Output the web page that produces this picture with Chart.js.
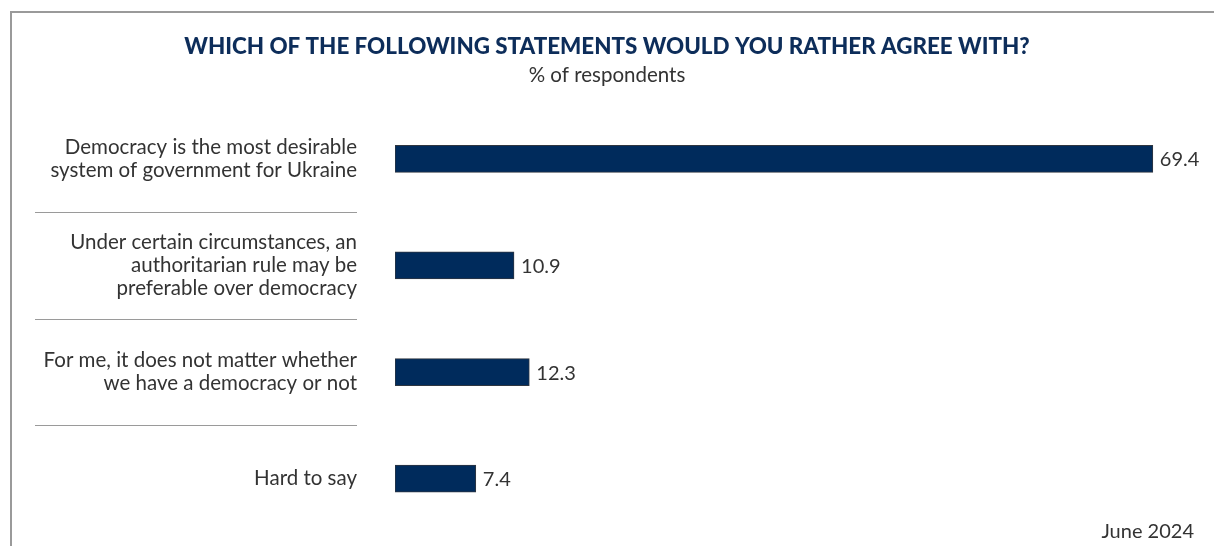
<!DOCTYPE html>
<html>
<head>
<meta charset="utf-8">
<script src="https://cdn.jsdelivr.net/npm/chart.js@4.4.1/dist/chart.umd.min.js"></script>
<style>
    html, body { margin: 0; padding: 0; background: #fff; overflow: hidden; }
    #wrap { position: relative; width: 1214px; height: 546px; overflow: hidden; }
    #frame {
        position: absolute; left: 10px; top: 11px; right: 0; bottom: 0;
        border-left: 2px solid #9a9a9a; border-top: 2px solid #9a9a9a;
        pointer-events: none;
    }
    canvas { position: absolute; left: 0; top: 0; }
</style>
</head>
<body>
<div id="wrap">
    <canvas id="chart" width="1214" height="546"></canvas>
    <div id="frame"></div>
</div>
<script>
(function () {
    var categories = [
        ['Democracy is the most desirable', 'system of government for Ukraine'],
        ['Under certain circumstances, an', 'authoritarian rule may be', 'preferable over democracy'],
        ['For me, it does not matter whether', 'we have a democracy or not'],
        ['Hard to say']
    ];
    var values = [69.4, 10.9, 12.3, 7.4];

    var titleText = 'WHICH OF THE FOLLOWING STATEMENTS WOULD YOU RATHER AGREE WITH?';
    var subtitleText = '% of respondents';
    var noteText = 'June 2024';

    var navy = '#002b5c';
    var textColor = '#333333';
    var bodyFont = 'Lato, "Open Sans", sans-serif';

    // thin rules between the category labels
    var separators = {
        id: 'separators',
        afterDraw: function (chart) {
            var ctx = chart.ctx;
            var y = chart.scales.y;
            ctx.save();
            ctx.strokeStyle = '#9a9a9a';
            ctx.lineWidth = 1;
            for (var i = 0; i < categories.length - 1; i++) {
                var py = Math.round((y.getPixelForValue(i) + y.getPixelForValue(i + 1)) / 2) + 0.5;
                ctx.beginPath();
                ctx.moveTo(35, py);
                ctx.lineTo(chart.chartArea.left - 38, py);
                ctx.stroke();
            }
            ctx.restore();
        }
    };

    // value printed after each bar, plus the date note
    var valueLabels = {
        id: 'valueLabels',
        afterDatasetsDraw: function (chart) {
            var ctx = chart.ctx;
            var meta = chart.getDatasetMeta(0);
            ctx.save();
            ctx.font = '20px ' + bodyFont;
            ctx.fillStyle = textColor;
            ctx.textBaseline = 'middle';
            ctx.textAlign = 'left';
            meta.data.forEach(function (bar, i) {
                ctx.fillText(values[i].toFixed(1), bar.x + 7, bar.y + 1);
            });
            ctx.textAlign = 'right';
            ctx.fillText(noteText, chart.width - 20, 532);
            ctx.restore();
        }
    };

    new Chart(document.getElementById('chart'), {
        type: 'bar',
        data: {
            labels: categories,
            datasets: [{
                data: values,
                backgroundColor: navy,
                borderColor: '#2f3640',
                borderWidth: 1,
                borderSkipped: false,
                barThickness: 27
            }]
        },
        options: {
            indexAxis: 'y',
            responsive: false,
            animation: false,
            layout: { padding: { left: 0, right: 0, top: 0, bottom: 14 } },
            scales: {
                x: {
                    display: false,
                    min: 0,
                    max: 75
                },
                y: {
                    afterFit: function (scale) {
                        scale.width = 395;
                        // labels sit beside their bars, no extra room needed above/below
                        scale.paddingTop = 0;
                        scale.paddingBottom = 0;
                    },
                    border: { display: false },
                    grid: { display: false, drawTicks: false },
                    ticks: {
                        color: textColor,
                        padding: 38,
                        font: { family: bodyFont, size: 20.5, lineHeight: 1.14 }
                    }
                }
            },
            plugins: {
                legend: { display: false },
                tooltip: { enabled: false },
                title: {
                    display: true,
                    text: titleText,
                    color: '#0d2d5a',
                    font: { family: bodyFont, size: 22.4, weight: 900, lineHeight: 1.2 },
                    padding: { top: 33, bottom: 0 }
                },
                subtitle: {
                    display: true,
                    text: subtitleText,
                    color: textColor,
                    font: { family: bodyFont, size: 20.5, lineHeight: 1.2 },
                    padding: { top: 3, bottom: 18 }
                }
            }
        },
        plugins: [separators, valueLabels]
    });
})();
</script>
</body>
</html>
